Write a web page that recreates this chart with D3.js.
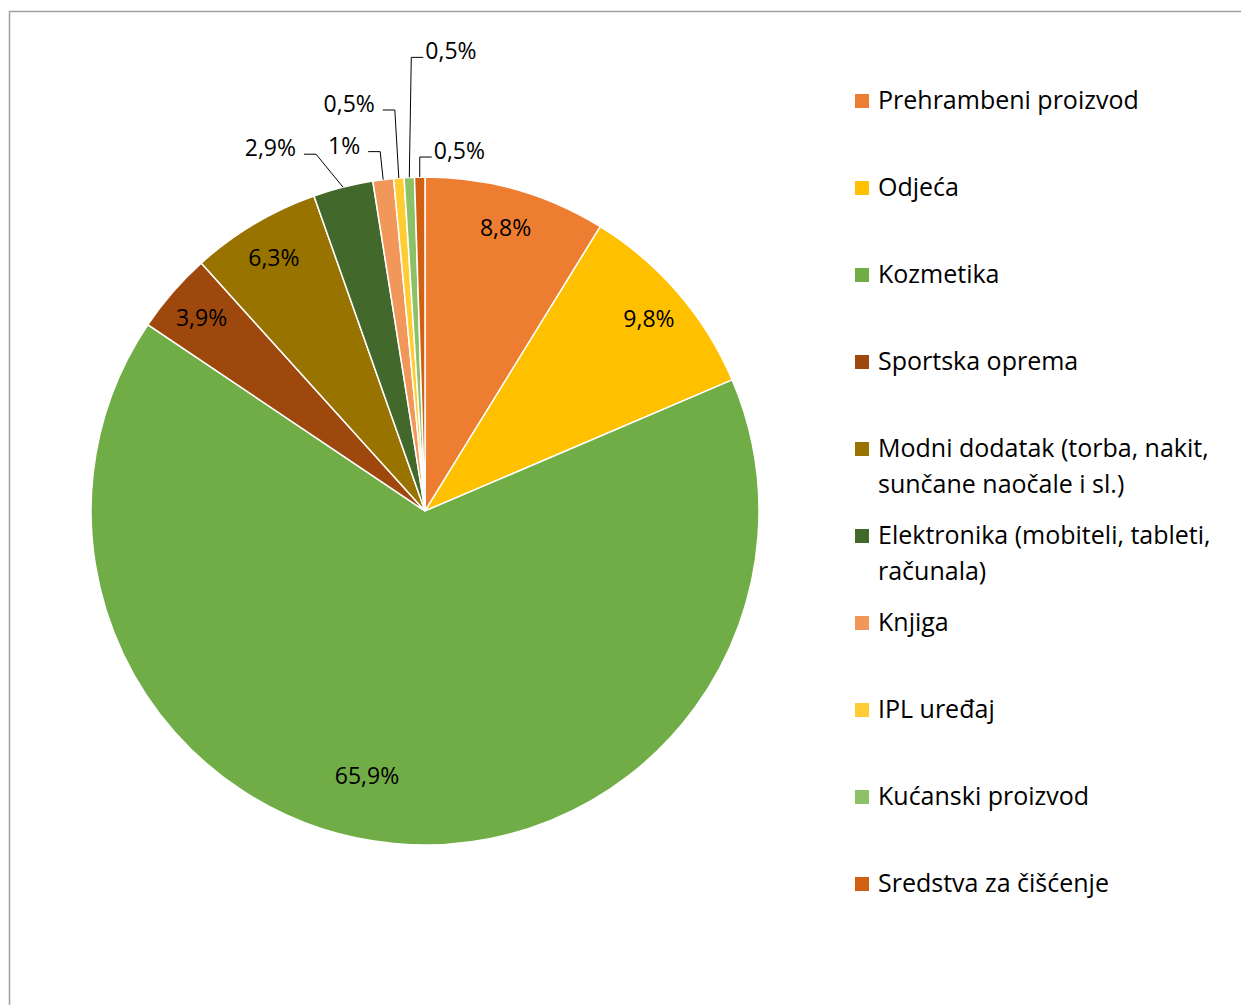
<!DOCTYPE html>
<html>
<head>
<meta charset="utf-8">
<script src="https://cdn.jsdelivr.net/npm/d3@7"></script>
<style>
  body { margin: 0; background: #fff; }
  text { font-family: "Open Sans", sans-serif; fill: #000; }
</style>
</head>
<body>
<script>
// categories, values (percent), colours in drawing order (clockwise from 12 o'clock)
var categories = [
  "Prehrambeni proizvod",
  "Odjeća",
  "Kozmetika",
  "Sportska oprema",
  "Modni dodatak (torba, nakit, sunčane naočale i sl.)",
  "Elektronika (mobiteli, tableti, računala)",
  "Knjiga",
  "IPL uređaj",
  "Kućanski proizvod",
  "Sredstva za čišćenje"
];
var values = [8.8, 9.8, 65.9, 3.9, 6.3, 2.9, 1, 0.5, 0.5, 0.5];
var colors = ["#ED7D31", "#FFC000", "#70AD47", "#9E480E", "#997300",
              "#43682B", "#F1975A", "#FFCD33", "#8CC168", "#D26012"];

var width = 1241, height = 1005;
var cx = 425, cy = 511, radius = 334;

// callout layout for the thin slices: elbow offset from the slice edge, and side of the text
var callouts = {
  5: { dx: -27, dy: -33, side: "left" },
  6: { dx: -3,  dy: -28, side: "left" },
  7: { dx: -4,  dy: -68, side: "left" },
  8: { dx: 2,   dy: -120, side: "right" },
  9: { dx: 0,   dy: -20, side: "right" }
};

var data = categories.map(function(c, i) {
  return { name: c, value: values[i], color: colors[i], idx: i };
});

function fmt(v) { return String(v).replace(".", ",") + "%"; }

var svg = d3.select("body").append("svg")
  .attr("width", width).attr("height", height);

// chart border (top and left edges visible)
svg.append("path")
  .attr("d", "M9.5," + height + " V11.5 H" + width)
  .attr("fill", "none")
  .attr("stroke", "#a0a0a0")
  .attr("stroke-width", 1.5);

var pie = d3.pie().sort(null).value(function(d) { return d.value; });
var arc = d3.arc().innerRadius(0).outerRadius(radius);
var arcs = pie(data);

var g = svg.append("g").attr("transform", "translate(" + cx + "," + cy + ")");

g.selectAll("path.slice")
  .data(arcs)
  .enter().append("path")
  .attr("class", "slice")
  .attr("d", arc)
  .attr("fill", function(d) { return d.data.color; })
  .attr("stroke", "#fff")
  .attr("stroke-width", 1.5);

function polar(angle, r) {
  return [Math.sin(angle) * r, -Math.cos(angle) * r];
}

// inside labels
arcs.forEach(function(d, i) {
  if (callouts[i]) return;
  var mid = (d.startAngle + d.endAngle) / 2;
  var rf = 0.885;
  if (d.data.value > 50) { mid += 7 * Math.PI / 180; rf = 0.81; }
  var p = polar(mid, radius * rf);
  g.append("text")
    .attr("x", p[0]).attr("y", p[1])
    .attr("text-anchor", "middle")
    .attr("dominant-baseline", "central")
    .style("font-size", "23px")
    .text(fmt(d.data.value));
});

// callout labels with leader lines
arcs.forEach(function(d, i) {
  var c = callouts[i];
  if (!c) return;
  var mid = (d.startAngle + d.endAngle) / 2;
  var e = polar(mid, radius);
  var ex = e[0] + c.dx, ey = e[1] + c.dy;
  var hx = c.side === "left" ? ex - 12 : ex + 12;
  g.append("path")
    .attr("d", "M" + e[0] + "," + e[1] + " L" + ex + "," + ey + " L" + hx + "," + ey)
    .attr("fill", "none")
    .attr("stroke", "#000")
    .attr("stroke-width", 1);
  g.append("text")
    .attr("x", c.side === "left" ? hx - 8 : hx + 2)
    .attr("y", ey - 7)
    .attr("text-anchor", c.side === "left" ? "end" : "start")
    .attr("dominant-baseline", "central")
    .style("font-size", "23px")
    .text(fmt(d.data.value));
});

// legend
var legend = svg.append("g").attr("transform", "translate(855,0)");
var maxW = 360;
data.forEach(function(d, i) {
  var y = 101 + i * 87;
  legend.append("rect")
    .attr("x", 0).attr("y", y - 7)
    .attr("width", 14).attr("height", 14)
    .attr("fill", d.color);
  var t = legend.append("text")
    .attr("x", 23).attr("y", y - 2)
    .attr("dominant-baseline", "central")
    .style("font-size", "25px");
  // simple word wrap
  var words = d.name.split(" ");
  var line = [], lineNo = 0;
  var ts = t.append("tspan").attr("x", 23).attr("y", y - 2);
  words.forEach(function(w) {
    line.push(w);
    ts.text(line.join(" "));
    if (ts.node().getComputedTextLength() > maxW && line.length > 1) {
      line.pop();
      ts.text(line.join(" "));
      line = [w];
      lineNo++;
      ts = t.append("tspan").attr("x", 23).attr("y", y - 2 + lineNo * 36).text(w);
    }
  });
});
</script>
</body>
</html>
